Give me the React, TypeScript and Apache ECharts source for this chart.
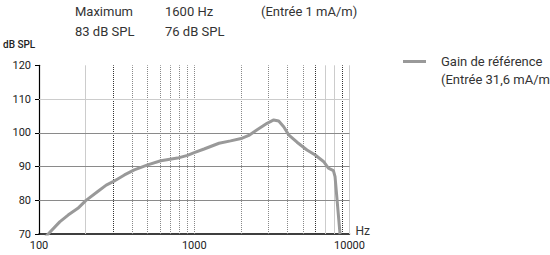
import React, { useEffect, useRef } from "react";
import * as echarts from "echarts";

const freqs = [100, 114.6, 136, 154, 178, 200, 239, 271, 300, 355, 411, 501, 609, 780, 904, 1000, 1157, 1444, 1714, 2037, 2246, 2541, 2945, 3249, 3499, 3768, 4055, 4592, 5323, 6013, 6797, 7314, 7876, 8070, 8690];
const gainDb = [67, 70, 73.6, 75.6, 77.6, 79.9, 82.6, 84.5, 85.5, 87.5, 89, 90.5, 91.7, 92.5, 93.3, 94.1, 95.2, 96.9, 97.6, 98.4, 99.2, 100.9, 102.8, 103.8, 103.5, 101.8, 99.4, 97.2, 94.9, 93.4, 91.5, 89.5, 88.8, 87, 70];

const seriesName = "Gain de référence";
const seriesSubName = "(Entrée 31,6 mA/m)";
const headerRow1 = ["Maximum", "1600 Hz", "(Entrée 1 mA/m)"];
const headerRow2 = ["83 dB SPL", "76 dB SPL"];

// vertical gridlines: frequency and style kind
const vGridFreqs = [200, 300, 400, 500, 600, 700, 800, 900, 1000, 2000, 3000, 4000, 5000, 6000, 7000, 8000, 9000, 10000];
const vGridKinds = ["light", "dark", "dot", "dot", "dot", "dot", "dot", "dot", "dot", "dot", "dot", "dot", "dot", "dark", "light", "light", "dark", "light"];
const hGridValues = [80, 90, 100, 110];
const hGridKinds = ["mid", "mid", "mid", "light"];

const FONT = "Roboto, 'Liberation Sans', sans-serif";

const styleFor = (k: string) => {
  switch (k) {
    case "light": return { color: "#cccccc", width: 1, type: "solid" as const };
    case "dark": return { color: "#333", width: 1, type: [1, 1] as any };
    case "mid": return { color: "#8a8a8a", width: 1, type: "solid" as const };
    default: return { color: "#888", width: 1, type: [1, 1] as any };
  }
};

export default function App() {
  const ref = useRef<HTMLDivElement>(null);
  useEffect(() => {
    if (!ref.current) return;
    const chart = echarts.init(ref.current, null, { renderer: "svg" });
    const markData: any[] = [];
    vGridFreqs.forEach((f, i) => markData.push({ xAxis: f, lineStyle: styleFor(vGridKinds[i]) }));
    hGridValues.forEach((v, i) => markData.push({ yAxis: v, lineStyle: styleFor(hGridKinds[i]) }));
    const colX = [75, 165, 261];
    const graphics: any[] = [];
    headerRow1.forEach((t, i) => graphics.push({ type: "text", left: colX[i], top: 5, style: { text: t, font: `13px ${FONT}`, fill: "#333" } }));
    headerRow2.forEach((t, i) => graphics.push({ type: "text", left: colX[i], top: 25, style: { text: t, font: `13px ${FONT}`, fill: "#333" } }));
    graphics.push({ type: "text", left: 441, top: 73, style: { text: seriesSubName, font: `13px ${FONT}`, fill: "#333" } });
    chart.setOption({
      animation: false,
      grid: { left: 37.5, right: 200.5, top: 65.3, bottom: 21 },
      legend: {
        data: [seriesName],
        left: 403,
        top: 55,
        icon: "rect",
        itemWidth: 23,
        itemHeight: 3,
        itemGap: 0,
        padding: 0,
        textStyle: { fontFamily: FONT, fontSize: 13, color: "#333", padding: [0, 0, 0, 10] },
      },
      graphic: graphics,
      xAxis: {
        type: "log",
        logBase: 10,
        min: 100,
        max: 10000,
        name: "Hz",
        nameGap: 6,
        nameTextStyle: { fontFamily: FONT, fontSize: 12, color: "#333", verticalAlign: "bottom", padding: [0, 0, -3, 0] },
        axisLine: { lineStyle: { color: "#000", width: 1.5 } },
        axisTick: { show: false },
        splitLine: { show: false },
        axisLabel: { fontFamily: FONT, fontSize: 11, color: "#222", margin: 6, formatter: (v: number) => String(Math.round(v)) },
      },
      yAxis: {
        type: "value",
        min: 70,
        max: 120,
        interval: 10,
        name: "dB SPL",
        nameLocation: "end",
        nameGap: 16,
        nameTextStyle: { fontFamily: FONT, fontSize: 10, color: "#222", fontWeight: 500, align: "left", padding: [0, 0, 0, -36] },
        axisLine: { show: true, lineStyle: { color: "#000", width: 1.2 } },
        axisTick: { show: true, length: 4, lineStyle: { color: "#000" } },
        splitLine: { show: false },
        axisLabel: { fontFamily: FONT, fontSize: 11, color: "#222", margin: 8 },
      },
      series: [
        {
          name: seriesName,
          type: "line",
          data: freqs.map((f, i) => [f, gainDb[i]]),
          showSymbol: false,
          color: "#999",
          lineStyle: { color: "#999", width: 3 },
          z: 5,
          markLine: {
            silent: true,
            symbol: "none",
            label: { show: false },
            data: markData,
          },
        },
      ],
    });
    return () => chart.dispose();
  }, []);
  return <div ref={ref} style={{ position: "absolute", left: 0, top: 0, width: 550, height: 255 }} />;
}
